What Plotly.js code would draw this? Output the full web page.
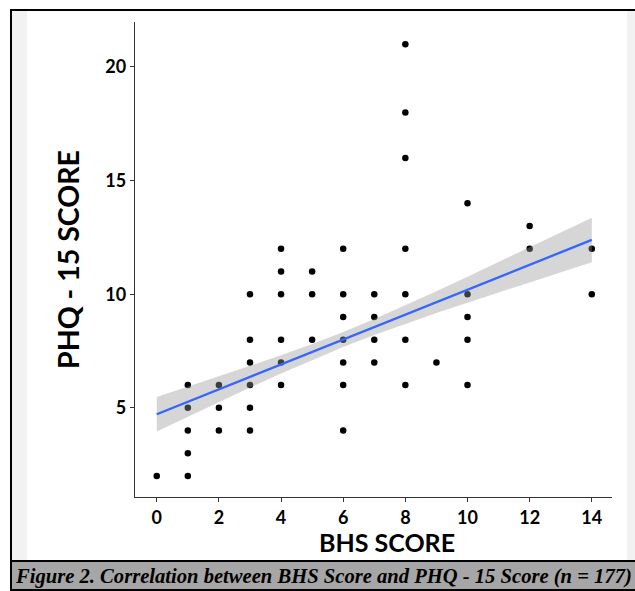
<!DOCTYPE html>
<html>
<head>
<meta charset="utf-8">
<script src="https://cdn.plot.ly/plotly-3.0.1.min.js"></script>
<style>
html,body{margin:0;padding:0;background:#fff;}
#chart{width:635px;height:591px;}
</style>
</head>
<body>
<div id="chart"></div>
<script>
// Scatter points (BHS score, PHQ-15 score) - unique positions
const bhsScore = [0, 1,1,1,1,1, 2,2,2, 3,3,3,3,3,3, 4,4,4,4,4,4, 5,5,5, 6,6,6,6,6,6,6, 7,7,7,7, 8,8,8,8,8,8,8, 9, 10,10,10,10,10, 12,12, 14,14];
const phqScore = [2, 2,3,4,5,6, 4,5,6, 4,5,6,7,8,10, 6,7,8,10,11,12, 8,10,11, 4,6,7,8,9,10,12, 7,8,9,10, 6,8,10,12,16,18,21, 7, 6,8,9,10,14, 12,13, 10,12];

// Regression fit line and confidence band
const fitX = [0, 14];
const fitY = [4.72, 12.39];
const bandX = [0,1,2,3,4,5,6,7,8,9,10,11,12,13,14];
const bandUpper = [5.48,5.93,6.38,6.83,7.31,7.81,8.34,8.91,9.51,10.13,10.77,11.42,12.07,12.71,13.37];
const bandLower = [3.96,4.61,5.26,5.89,6.51,7.11,7.68,8.21,8.70,9.17,9.63,10.08,10.53,10.97,11.41];

const xTicks = [0,2,4,6,8,10,12,14];
const yTicks = [5,10,15,20];

const xTitle = 'BHS SCORE';
const yTitle = 'PHQ - 15 SCORE';
const caption = 'Figure 2. Correlation between BHS Score and PHQ - 15 Score (n = 177)';

// plot-area pixel geometry
const W = 635, H = 591;
const L = 135, R = 612, T = 22, B = 497;
const px = v => (v - L) / (R - L);
const py = v => (B - v) / (B - T);

const traces = [
  {
    x: bhsScore, y: phqScore, type: 'scatter', mode: 'markers',
    marker: {color: '#000000', size: 6.5}, hoverinfo: 'x+y', showlegend: false
  },
  {
    x: bandX, y: bandLower, type: 'scatter', mode: 'lines',
    line: {width: 0, color: 'rgba(0,0,0,0)'}, showlegend: false, hoverinfo: 'skip'
  },
  {
    x: bandX, y: bandUpper, type: 'scatter', mode: 'lines', fill: 'tonexty',
    fillcolor: 'rgba(153,153,153,0.4)',
    line: {width: 0, color: 'rgba(0,0,0,0)'}, showlegend: false, hoverinfo: 'skip'
  },
  {
    x: fitX, y: fitY, type: 'scatter', mode: 'lines',
    line: {color: '#3366FF', width: 2.3}, showlegend: false
  }
];

const rect = (x0, y0, x1, y1, color) => ({
  type: 'rect', xref: 'paper', yref: 'paper', layer: 'below',
  x0: px(x0), x1: px(x1), y0: py(y1), y1: py(y0),
  fillcolor: color, line: {width: 0}
});

const layout = {
  width: W, height: H,
  margin: {l: L, r: W - R, t: T, b: H - B, pad: 0},
  paper_bgcolor: '#ffffff', plot_bgcolor: 'rgba(0,0,0,0)',
  showlegend: false,
  xaxis: {
    range: [-0.7, 14.65], tickvals: xTicks, ticktext: xTicks.map(String),
    showgrid: false, zeroline: false, showline: true, linecolor: '#333333', linewidth: 1.3,
    ticks: 'outside', ticklen: 4, tickcolor: '#333333', tickwidth: 1,
    tickfont: {family: 'Lato, sans-serif', size: 18, color: '#000', weight: 'bold'},
    title: {text: ''}
  },
  yaxis: {
    range: [1.076, 21.98], tickvals: yTicks, ticktext: yTicks.map(String),
    showgrid: false, zeroline: false, showline: true, linecolor: '#333333', linewidth: 1.3,
    ticks: 'outside', ticklen: 4, tickcolor: '#333333', tickwidth: 1,
    tickfont: {family: 'Lato, sans-serif', size: 18, color: '#000', weight: 'bold'},
    title: {text: '<b>' + yTitle + '</b>', standoff: 17,
            font: {family: 'Lato, sans-serif', size: 28.5, color: '#000'}}
  },
  shapes: [
    rect(12, 11, 27, 560, '#f2f2f2'),
    rect(627, 11, 635, 560, '#f2f2f2'),
    rect(10, 9, 635, 11, '#000000'),
    rect(10, 9, 12, 591, '#000000'),
    rect(12, 560, 635, 562, '#000000'),
    rect(12, 562, 635, 589, '#a6a6a6'),
    rect(12, 589, 635, 591, '#000000')
  ],
  annotations: [
    {
      xref: 'paper', yref: 'paper', x: px(387), y: py(542),
      xanchor: 'center', yanchor: 'middle', showarrow: false,
      text: '<b>' + xTitle + '</b>',
      font: {family: 'Lato, sans-serif', size: 25, color: '#000'}
    },
    {
      xref: 'paper', yref: 'paper', x: px(13), y: py(576),
      xanchor: 'left', yanchor: 'middle', showarrow: false,
      text: '<b><i>' + caption + '</i></b>',
      font: {family: '"Liberation Serif", serif', size: 20.6, color: '#000'}
    }
  ]
};

Plotly.newPlot('chart', traces, layout, {displayModeBar: false, staticPlot: true});
</script>
</body>
</html>
